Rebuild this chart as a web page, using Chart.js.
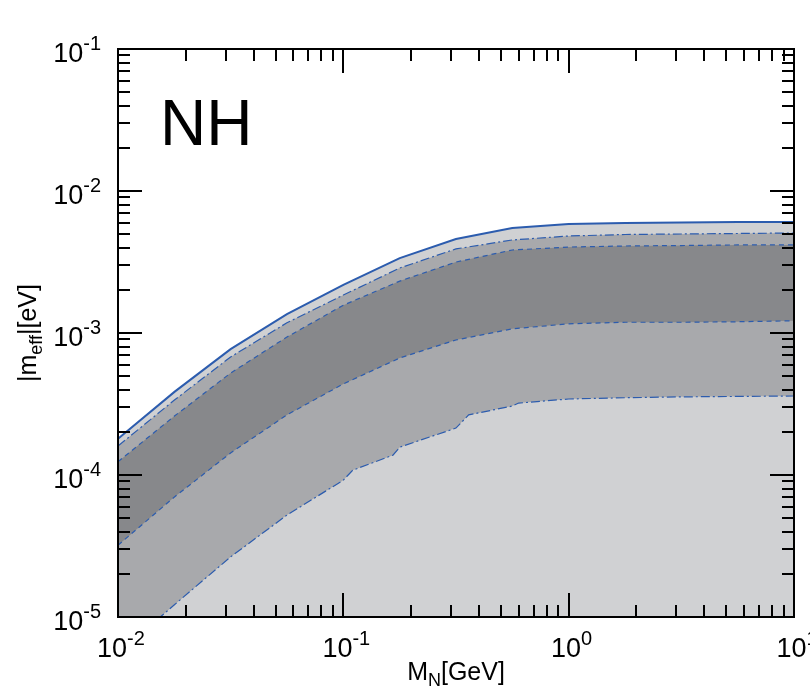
<!DOCTYPE html>
<html>
<head>
<meta charset="utf-8">
<script src="https://cdn.jsdelivr.net/npm/chart.js@4/dist/chart.umd.min.js"></script>
<style>
  html, body { margin: 0; padding: 0; background: #ffffff; }
  #wrap { width: 810px; height: 687px; }
</style>
</head>
<body>
<div id="wrap"><canvas id="c" width="810" height="687"></canvas></div>
<script>
// Heavy-neutrino mass grid [GeV]
const massGeV = [0.01, 0.0178, 0.0316, 0.0562, 0.1, 0.178, 0.316, 0.562, 1, 1.78, 3.16, 5.62, 10];

// |m_eff| boundaries [eV], top to bottom
const upperSolid   = [1.80e-4, 3.85e-4, 7.70e-4, 1.36e-3, 2.18e-3, 3.37e-3, 4.59e-3, 5.48e-3, 5.86e-3, 5.96e-3, 6.00e-3, 6.05e-3, 6.05e-3];
const upperDashDot = [1.60e-4, 3.37e-4, 6.78e-4, 1.18e-3, 1.85e-3, 2.87e-3, 3.91e-3, 4.52e-3, 4.82e-3, 4.94e-3, 4.98e-3, 5.02e-3, 5.06e-3];
const upperDashed  = [1.24e-4, 2.60e-4, 5.22e-4, 9.37e-4, 1.57e-3, 2.32e-3, 3.16e-3, 3.84e-3, 4.03e-3, 4.10e-3, 4.13e-3, 4.17e-3, 4.17e-3];
const lowerDashed  = [3.20e-5, 7.00e-5, 1.43e-4, 2.65e-4, 4.38e-4, 6.67e-4, 8.93e-4, 1.07e-3, 1.16e-3, 1.19e-3, 1.19e-3, 1.20e-3, 1.22e-3];

// lower edge has its own, finer mass sampling
const lowerMassGeV = [0.01, 0.0154, 0.0178, 0.0316, 0.0562, 0.1, 0.11, 0.166, 0.178, 0.316, 0.36, 0.562, 0.6, 1, 1.78, 3.16, 10];
const lowerDashDot = [5.6e-6, 1.0e-5, 1.22e-5, 2.65e-5, 5.22e-5, 9.2e-5, 1.08e-4, 1.38e-4, 1.57e-4, 2.14e-4, 2.65e-4, 3.06e-4, 3.21e-4, 3.43e-4, 3.5e-4, 3.55e-4, 3.6e-4];

// axis decades (exponents) for tick labels
const xDecades = [-2, -1, 0, 1];
const yDecades = [-5, -4, -3, -2, -1];

const panelLabel = 'NH';

const LIGHT = '#d0d1d3';
const MID = '#a8a9ac';
const DARK = '#87888b';
const BLUE = '#2c5cae';

function pts(xs, ys) { return xs.map((x, i) => ({ x: x, y: ys[i] })); }

function band(data, fillColor, dash, width, order) {
  return {
    data: data,
    borderColor: BLUE,
    borderWidth: width,
    borderDash: dash,
    backgroundColor: fillColor,
    fill: 'start',
    pointRadius: 0,
    tension: 0,
    order: order
  };
}

const FONT = '"Liberation Sans", Arial, sans-serif';

function drawPow(ctx, x, y, exp, align) {
  // "10" with a raised exponent; align = 'center' or 'right'
  const base = '10', sup = String(exp);
  ctx.font = '27px ' + FONT;
  const wb = ctx.measureText(base).width;
  ctx.font = '20px ' + FONT;
  const ws = ctx.measureText(sup).width;
  const total = wb + ws;
  let x0 = align === 'center' ? x - total / 2 : x - total;
  ctx.textAlign = 'left';
  ctx.textBaseline = 'alphabetic';
  ctx.fillStyle = '#000';
  ctx.font = '27px ' + FONT;
  ctx.fillText(base, x0, y);
  ctx.font = '20px ' + FONT;
  ctx.fillText(sup, x0 + wb, y - 12);
}

const framePlugin = {
  id: 'frame',
  afterDraw(chart) {
    const ctx = chart.ctx;
    const a = chart.chartArea;
    const xs = chart.scales.x, ys = chart.scales.y;
    ctx.save();
    ctx.strokeStyle = '#000';
    ctx.lineWidth = 2;
    ctx.lineCap = 'butt';

    // inward ticks on all four sides
    const major = 24, minor = 12;
    ctx.beginPath();
    for (const d of xDecades) {
      for (let k = 1; k <= 9; k++) {
        if (d === xDecades[xDecades.length - 1] && k > 1) break;
        const v = k * Math.pow(10, d);
        const px = Math.round(xs.getPixelForValue(v));
        const len = k === 1 ? major : minor;
        ctx.moveTo(px, a.bottom); ctx.lineTo(px, a.bottom - len);
        ctx.moveTo(px, a.top); ctx.lineTo(px, a.top + len);
      }
    }
    for (const d of yDecades) {
      for (let k = 1; k <= 9; k++) {
        if (d === yDecades[yDecades.length - 1] && k > 1) break;
        const v = k * Math.pow(10, d);
        const py = Math.round(ys.getPixelForValue(v));
        const len = k === 1 ? major : minor;
        ctx.moveTo(a.left, py); ctx.lineTo(a.left + len, py);
        ctx.moveTo(a.right, py); ctx.lineTo(a.right - len, py);
      }
    }
    ctx.stroke();
    ctx.strokeRect(a.left, a.top, a.right - a.left, a.bottom - a.top);

    // tick labels
    for (const d of xDecades) {
      const px = xs.getPixelForValue(Math.pow(10, d));
      drawPow(ctx, px + 3, a.bottom + 40, d, 'center');
    }
    for (const d of yDecades) {
      const py = ys.getPixelForValue(Math.pow(10, d));
      drawPow(ctx, a.left - 17, py + 13, d, 'right');
    }

    // x title: M_N[GeV]
    ctx.fillStyle = '#000';
    ctx.textBaseline = 'alphabetic';
    ctx.textAlign = 'left';
    const cx = (a.left + a.right) / 2;
    ctx.font = '25px ' + FONT;
    const wM = ctx.measureText('M').width;
    const wT = ctx.measureText('[GeV]').width;
    ctx.font = '18px ' + FONT;
    const wN = ctx.measureText('N').width;
    let x0 = cx - (wM + wN + wT) / 2;
    ctx.font = '25px ' + FONT;
    ctx.fillText('M', x0, 680);
    ctx.font = '18px ' + FONT;
    ctx.fillText('N', x0 + wM, 686);
    ctx.font = '25px ' + FONT;
    ctx.fillText('[GeV]', x0 + wM + wN, 680);

    // y title: |m_eff|[eV]
    ctx.save();
    ctx.translate(36, (a.top + a.bottom) / 2);
    ctx.rotate(-Math.PI / 2);
    ctx.font = '25px ' + FONT;
    const w1 = ctx.measureText('|m').width;
    const w3 = ctx.measureText('|[eV]').width;
    ctx.font = '18px ' + FONT;
    const w2 = ctx.measureText('eff').width;
    let y0 = -(w1 + w2 + w3) / 2;
    ctx.font = '25px ' + FONT;
    ctx.fillText('|m', y0, 0);
    ctx.font = '18px ' + FONT;
    ctx.fillText('eff', y0 + w1, 6);
    ctx.font = '25px ' + FONT;
    ctx.fillText('|[eV]', y0 + w1 + w2, 0);
    ctx.restore();

    // panel label
    ctx.font = '64px ' + FONT;
    ctx.fillText(panelLabel, a.left + 42, a.top + 96);
    ctx.restore();
  }
};

new Chart(document.getElementById('c'), {
  type: 'line',
  data: {
    datasets: [
      band(pts(massGeV, upperSolid), LIGHT, [], 2, 5),
      band(pts(massGeV, upperDashDot), MID, [9, 3, 2, 3], 1.2, 4),
      band(pts(massGeV, upperDashed), DARK, [5, 4], 1.2, 3),
      band(pts(massGeV, lowerDashed), MID, [5, 4], 1.2, 2),
      band(pts(lowerMassGeV, lowerDashDot), LIGHT, [9, 3, 2, 3], 1.2, 1)
    ]
  },
  options: {
    responsive: false,
    animation: false,
    parsing: true,
    layout: { padding: { left: 118, top: 49, right: 16, bottom: 70 } },
    plugins: { legend: { display: false }, tooltip: { enabled: false } },
    scales: {
      x: { type: 'logarithmic', min: 0.01, max: 10, display: false },
      y: { type: 'logarithmic', min: 1e-5, max: 0.1, display: false }
    }
  },
  plugins: [framePlugin]
});
</script>
</body>
</html>
